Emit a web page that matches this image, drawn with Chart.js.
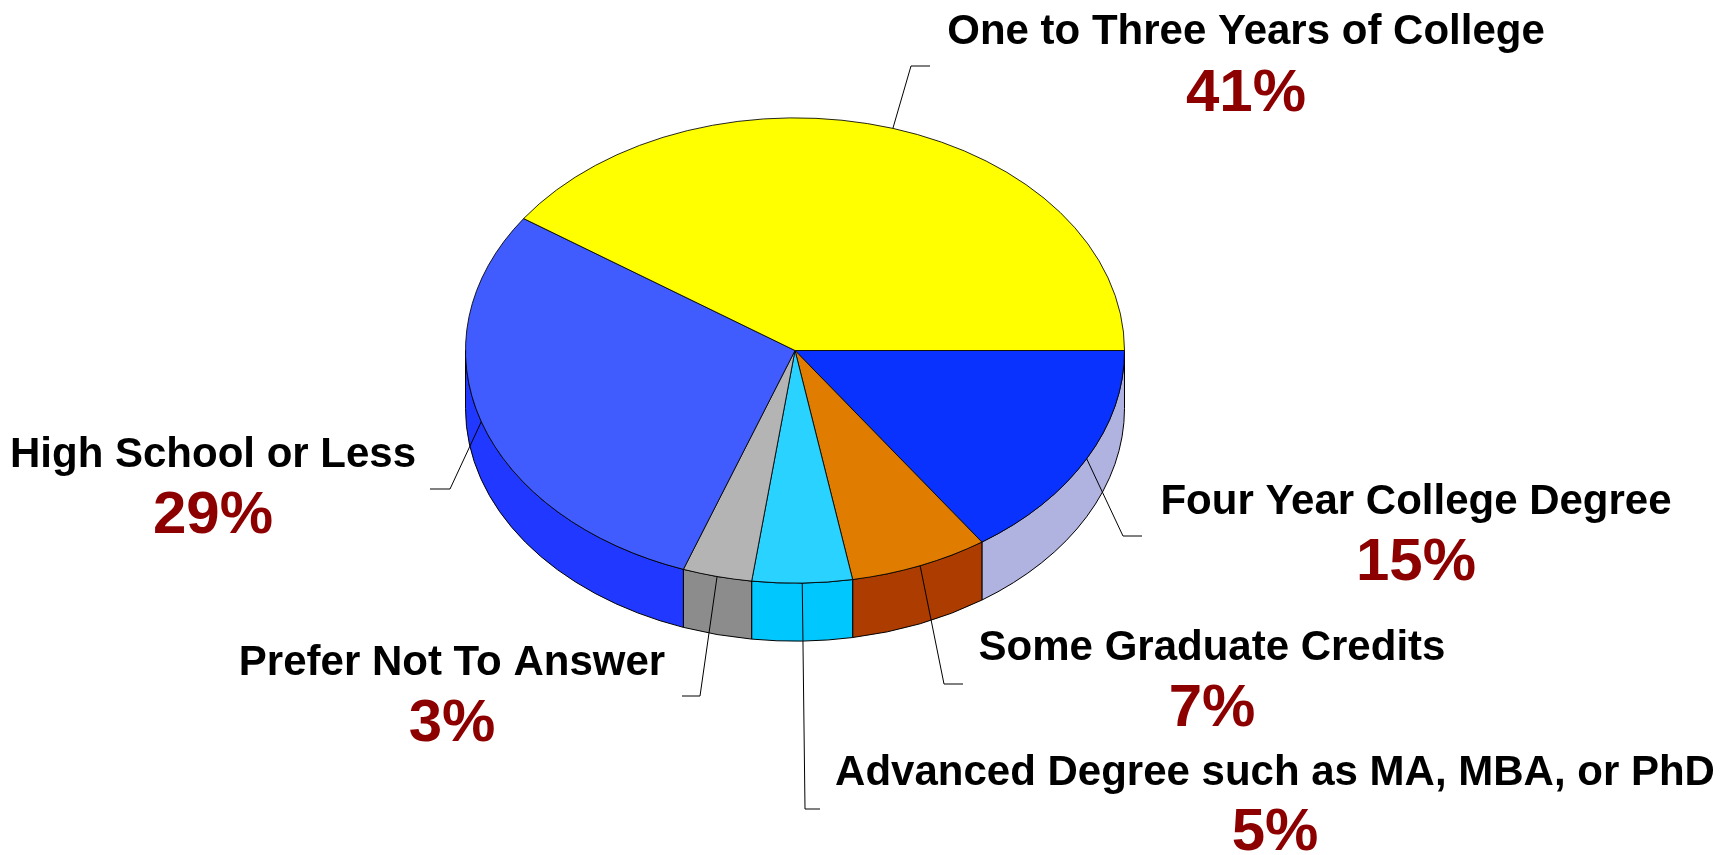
<!DOCTYPE html>
<html lang="en">
<head>
<meta charset="UTF-8">
<title>Education Level</title>
<script src="https://cdn.jsdelivr.net/npm/chart.js"></script>
<style>
    body { margin: 0; background: #fff; }
    canvas { display: block; }
</style>
</head>
<body>
<canvas id="pie" width="1726" height="855"></canvas>
<script>
    // slices go clockwise starting at 3 o'clock
    const categories = [
        'Four Year College Degree',
        'Some Graduate Credits',
        'Advanced Degree such as MA, MBA, or PhD',
        'Prefer Not To Answer',
        'High School or Less',
        'One to Three Years of College'
    ];
    // slice shares (unrounded)
    const shares = [15.4, 6.8, 4.9, 3.4, 29.1, 40.4];
    // percentages as printed on the chart
    const percentLabels = ['15%', '7%', '5%', '3%', '29%', '41%'];

    const topColors  = ['#0a32ff', '#e07c00', '#2ad2ff', '#b4b4b4', '#405cff', '#ffff00'];
    const sideColors = ['#b0b2e0', '#ac3c00', '#00c8ff', '#8c8c8c', '#2038ff', '#c8c800'];

    // label placement: [center x, name baseline, percent baseline]
    const labelPlaces = [
        [1416, 514, 580],
        [1212, 660, 726],
        [1275, 785, 850],
        [452, 675, 741],
        [213, 467, 533],
        [1246, 44, 111]
    ];
    // leader lines: knee point, then end point
    const leaderKnees = [[1123, 536], [944, 684], [805, 809], [700, 696], [450, 489], [911, 66]];
    const leaderEnds  = [[1142, 536], [963, 684], [820, 809], [682, 696], [430, 489], [930, 66]];

    const tilt = 0.706;   // vertical squash of the pie
    const depth = 58;     // thickness of the side wall

    // draws the side walls, then squashes the top face
    const pie3d = {
        id: 'pie3d',
        beforeDatasetsDraw(chart) {
            const ctx = chart.ctx;
            const arcs = chart.getDatasetMeta(0).data;
            const cx = arcs[0].x, cy = arcs[0].y, R = arcs[0].outerRadius;
            const ry = R * tilt;
            ctx.save();
            ctx.lineWidth = 1;
            ctx.strokeStyle = '#000';
            arcs.forEach((arc, i) => {
                const a0 = Math.max(arc.startAngle, 0);
                const a1 = Math.min(arc.endAngle, Math.PI);
                if (a1 <= a0) return;
                ctx.beginPath();
                ctx.ellipse(cx, cy, R, ry, 0, a0, a1);
                ctx.lineTo(cx + R * Math.cos(a1), cy + ry * Math.sin(a1) + depth);
                ctx.ellipse(cx, cy + depth, R, ry, 0, a1, a0, true);
                ctx.closePath();
                ctx.fillStyle = sideColors[i];
                ctx.fill();
                ctx.stroke();
            });
            ctx.restore();

            ctx.save();
            ctx.translate(cx, cy);
            ctx.scale(1, tilt);
            ctx.translate(-cx, -cy);
        },
        afterDatasetsDraw(chart) {
            chart.ctx.restore();
        }
    };

    // leader lines + category names + percentages
    const leaderLabels = {
        id: 'leaderLabels',
        afterDraw(chart) {
            const ctx = chart.ctx;
            const arcs = chart.getDatasetMeta(0).data;
            ctx.save();
            arcs.forEach((arc, i) => {
                const mid = (arc.startAngle + arc.endAngle) / 2;
                const sx = arc.x + arc.outerRadius * Math.cos(mid);
                const sy = arc.y + arc.outerRadius * tilt * Math.sin(mid);
                ctx.beginPath();
                ctx.moveTo(sx, sy);
                ctx.lineTo(leaderKnees[i][0], leaderKnees[i][1]);
                ctx.lineTo(leaderEnds[i][0], leaderEnds[i][1]);
                ctx.lineWidth = 1;
                ctx.strokeStyle = '#000';
                ctx.stroke();

                const [lx, nameY, pctY] = labelPlaces[i];
                ctx.textAlign = 'center';
                ctx.textBaseline = 'alphabetic';
                ctx.fillStyle = '#000';
                ctx.font = 'bold 42px "Liberation Sans", Arial, sans-serif';
                ctx.fillText(chart.data.labels[i], lx, nameY);
                ctx.fillStyle = '#8c0000';
                ctx.font = 'bold 60px "Liberation Sans", Arial, sans-serif';
                ctx.fillText(percentLabels[i], lx, pctY);
            });
            ctx.restore();
        }
    };

    new Chart(document.getElementById('pie').getContext('2d'), {
        type: 'pie',
        data: {
            labels: categories,
            datasets: [{
                data: shares,
                backgroundColor: topColors,
                borderColor: '#000',
                borderWidth: 1
            }]
        },
        options: {
            responsive: false,
            animation: false,
            rotation: 90,
            events: [],
            layout: { padding: { left: 465, right: 601, top: 20, bottom: 174 } },
            plugins: {
                legend: { display: false },
                tooltip: { enabled: false }
            }
        },
        plugins: [pie3d, leaderLabels]
    });
</script>
</body>
</html>
